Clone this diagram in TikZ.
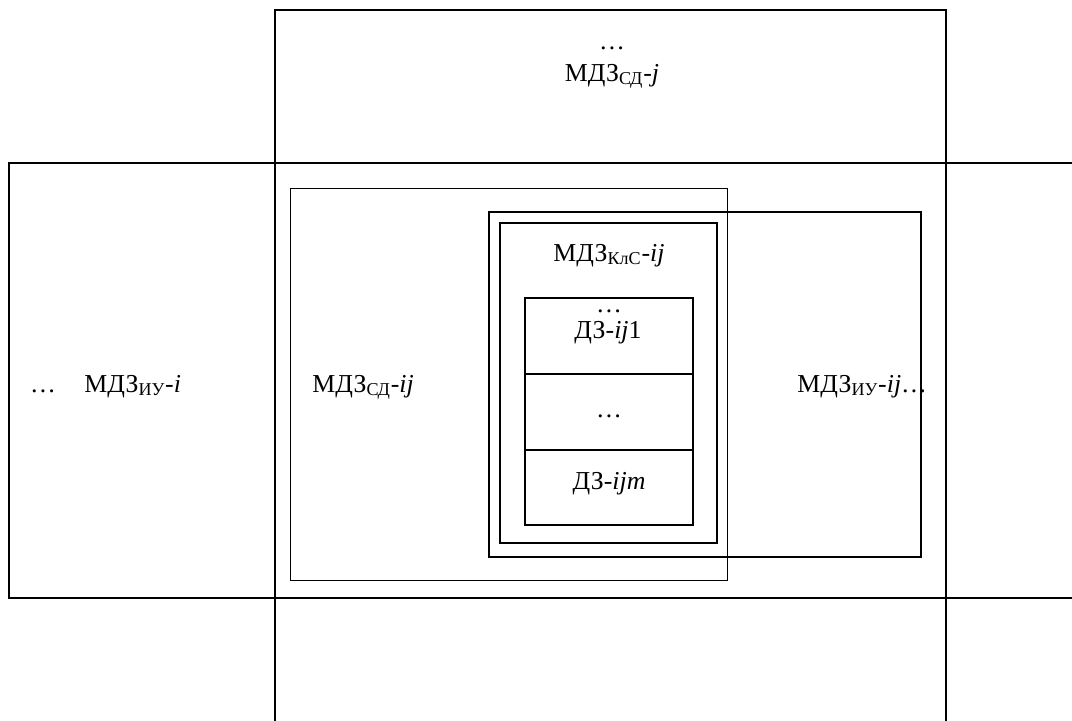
\documentclass[tikz,border=0pt]{standalone}
\usepackage{fontspec}
\setmainfont{Liberation Serif}
\usetikzlibrary{positioning}
\newcommand{\lowidx}[1]{\textsubscript{#1}}

\begin{document}
\begin{tikzpicture}[x=0.6pt,y=-0.6pt,font=\fontsize{15.5}{18}\selectfont,
  heavy/.style={line width=1.4pt},
  medium/.style={line width=1.0pt},
  light/.style={line width=0.5pt},
  lbl/.style={anchor=base,inner sep=0pt}]
\useasboundingbox (0,0) rectangle (1072,720);
% crossing bands
\draw[heavy](275,740)--(275,10)--(946,10)--(946,740);
\draw[heavy](1090,163)--(9,163)--(9,598)--(1090,598);
% nested zones
\draw[light](290,188)rectangle(727,580);
\draw[medium](489,212)rectangle(921,557);
\draw[medium](500,223)rectangle(717,543);
\draw[medium](525,298)rectangle(693,374)
  (525,374)rectangle(693,450)
  (525,450)rectangle(693,525);
% labels
\node[lbl] (topdots) at (612,49) {…};
\node[lbl] (sdj) at (612,81) {МДЗ\lowidx{СД}-\textit{j}};
\node[lbl] (leftdots) at (43,392) {…};
\node[lbl,anchor=base west] (iui) at (84,392) {МДЗ\lowidx{ИУ}-\textit{i}};
\node[lbl,anchor=base west] (sdij) at (312,392) {МДЗ\lowidx{СД}-\textit{ij}};
\node[lbl] (klsij) at (609,261) {МДЗ\lowidx{КлС}-\textit{ij}};
\node[lbl] (stackdots) at (609,312) {…};
\node[lbl] (dzone) at (608,338) {ДЗ-\textit{ij}1};
\node[lbl] (middots) at (609,417) {…};
\node[lbl] (dzm) at (609,489) {ДЗ-\textit{ijm}};
\node[lbl,anchor=base west] (iuij) at (797,392) {МДЗ\lowidx{ИУ}-\textit{ij}…};
\end{tikzpicture}
\end{document}
